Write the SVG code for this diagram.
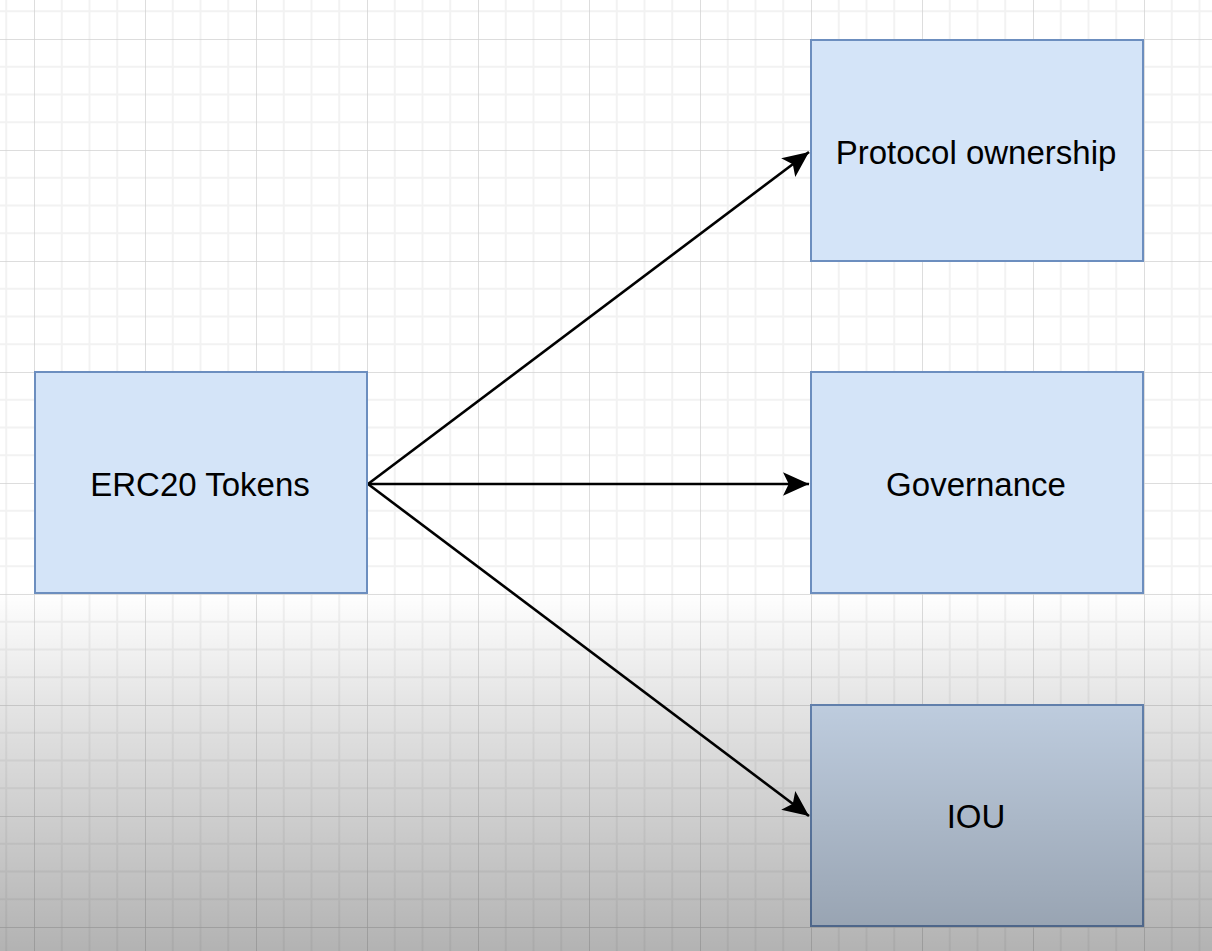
<svg xmlns="http://www.w3.org/2000/svg" width="1212" height="951" viewBox="0 0 1212 951">
  <style>
    .box { fill: #d4e4f8; stroke: #6c8ebf; stroke-width: 2; }
    .lbl { font-family: "Liberation Sans", Arial, sans-serif; font-size: 33px; fill: #000000; text-anchor: middle; dominant-baseline: central; }
    .edge { stroke: #000000; stroke-width: 2.6; fill: none; marker-end: url(#arrow); }
  </style>
  <defs>
    <pattern id="grid" x="34" y="39" width="111" height="111" patternUnits="userSpaceOnUse">
      <g stroke="#f2f2f2" stroke-width="2">
        <line x1="27.75" y1="0" x2="27.75" y2="111"/>
        <line x1="55.5" y1="0" x2="55.5" y2="111"/>
        <line x1="83.25" y1="0" x2="83.25" y2="111"/>
        <line x1="0" y1="27.75" x2="111" y2="27.75"/>
        <line x1="0" y1="55.5" x2="111" y2="55.5"/>
        <line x1="0" y1="83.25" x2="111" y2="83.25"/>
      </g>
      <g stroke="#d2d2d2" stroke-width="1.5">
        <line x1="0" y1="0" x2="0" y2="111"/>
        <line x1="0" y1="0" x2="111" y2="0"/>
      </g>
    </pattern>
    <linearGradient id="shade" x1="0" y1="590" x2="0" y2="951" gradientUnits="userSpaceOnUse">
      <stop offset="0" stop-color="#000" stop-opacity="0"/>
      <stop offset="0.3" stop-color="#000" stop-opacity="0.1"/>
      <stop offset="1" stop-color="#000" stop-opacity="0.3"/>
    </linearGradient>
    <marker id="arrow" viewBox="0 0 10 9" refX="10" refY="4.5" markerWidth="10" markerHeight="9" markerUnits="strokeWidth" orient="auto">
      <path d="M0,0 L10,4.5 L0,9 L2.2,4.5 Z" fill="#000"/>
    </marker>
  </defs>

  <rect x="0" y="0" width="1212" height="951" fill="#ffffff"/>
  <rect x="0" y="0" width="1212" height="951" fill="url(#grid)"/>

  <g id="connectors">
    <line class="edge" x1="368" y1="484" x2="809" y2="152"/>
    <line class="edge" x1="368" y1="484" x2="809" y2="484"/>
    <line class="edge" x1="368" y1="484" x2="809" y2="816"/>
  </g>

  <g id="node-erc20">
    <rect class="box" x="35" y="372" width="332" height="221"/>
    <text class="lbl" x="200" y="484">ERC20 Tokens</text>
  </g>
  <g id="node-protocol">
    <rect class="box" x="811" y="40" width="332" height="221"/>
    <text class="lbl" x="976" y="152">Protocol ownership</text>
  </g>
  <g id="node-governance">
    <rect class="box" x="811" y="372" width="332" height="221"/>
    <text class="lbl" x="976" y="484">Governance</text>
  </g>
  <g id="node-iou">
    <rect class="box" x="811" y="705" width="332" height="221"/>
    <text class="lbl" x="976" y="816">IOU</text>
  </g>

  <rect x="0" y="590" width="1212" height="361" fill="url(#shade)" pointer-events="none"/>
</svg>
